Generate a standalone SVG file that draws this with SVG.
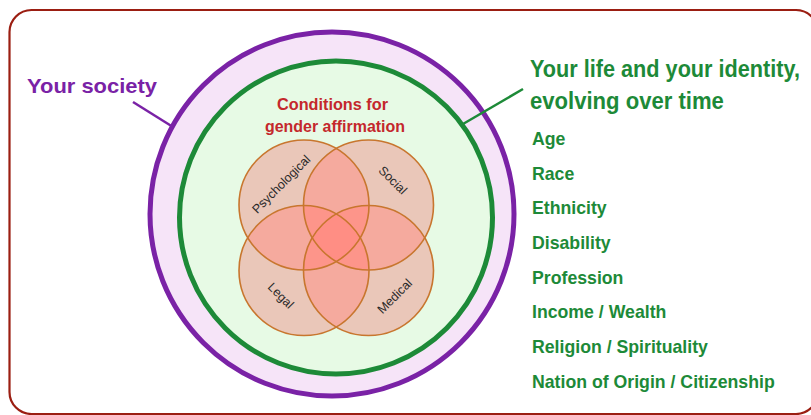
<svg xmlns="http://www.w3.org/2000/svg" width="811" height="415" viewBox="0 0 811 415">
<style>
.bold{font-family:"Liberation Sans",Arial,sans-serif;font-weight:bold}
.purple{fill:#7a22a6}
.green{fill:#1d8a38}
.red{fill:#c4282c}
.item{font-size:17.7px}
.base{fill:#eac7b9}
.lens{fill:#ff8d84;fill-opacity:0.5}
.ring{fill:none;stroke:#c8762e;stroke-width:1.6}
.vlabel{font-family:"Liberation Sans",Arial,sans-serif;font-size:12.5px;fill:#2a2a2a;text-anchor:middle}
.conn{stroke-width:2.5;fill:none}
</style>
<defs>
<clipPath id="cTL"><circle cx="304" cy="205" r="65"/></clipPath>
<clipPath id="cTR"><circle cx="368.5" cy="205" r="65"/></clipPath>
<clipPath id="cBL"><circle cx="304" cy="270.5" r="65"/></clipPath>
</defs>
<rect width="811" height="415" fill="#ffffff"/>
<rect id="frame" x="9.5" y="10" width="808.5" height="404" rx="22" ry="22" fill="none" stroke="#9b1e12" stroke-width="2.2"/>
<g id="society">
<circle cx="332" cy="214" r="182" fill="#f6e4f8" stroke="#7a22a6" stroke-width="5"/>
</g>
<g id="life">
<circle cx="336" cy="217.5" r="156.5" fill="#e7fae5" stroke="#1d8a38" stroke-width="5"/>
</g>
<g id="venn-fill">
<circle class="base" cx="304" cy="205" r="65"/>
<circle class="base" cx="368.5" cy="205" r="65"/>
<circle class="base" cx="304" cy="270.5" r="65"/>
<circle class="base" cx="368.5" cy="270.5" r="65"/>
<circle class="lens" cx="368.5" cy="205" r="65" clip-path="url(#cTL)"/>
<circle class="lens" cx="304" cy="270.5" r="65" clip-path="url(#cTL)"/>
<circle class="lens" cx="368.5" cy="270.5" r="65" clip-path="url(#cTL)"/>
<circle class="lens" cx="304" cy="270.5" r="65" clip-path="url(#cTR)"/>
<circle class="lens" cx="368.5" cy="270.5" r="65" clip-path="url(#cTR)"/>
<circle class="lens" cx="368.5" cy="270.5" r="65" clip-path="url(#cBL)"/>
</g>
<g id="psychological"><circle class="ring" cx="304" cy="205" r="65"/>
<text class="vlabel" transform="translate(281,184) rotate(-45)" dy="4.5">Psychological</text></g>
<g id="social"><circle class="ring" cx="368.5" cy="205" r="65"/>
<text class="vlabel" transform="translate(393,180) rotate(45)" dy="4.5">Social</text></g>
<g id="legal"><circle class="ring" cx="304" cy="270.5" r="65"/>
<text class="vlabel" transform="translate(281,295.5) rotate(45)" dy="4.5">Legal</text></g>
<g id="medical"><circle class="ring" cx="368.5" cy="270.5" r="65"/>
<text class="vlabel" transform="translate(394.5,296) rotate(-45)" dy="4.5">Medical</text></g>
<g id="connectors">
<line class="conn" x1="133" y1="102" x2="173" y2="127" stroke="#7a22a6"/>
<line class="conn" x1="523" y1="89" x2="463" y2="124" stroke="#1d8a38"/>
</g>
<g id="labels">
<text class="bold purple" x="27" y="93" font-size="21" textLength="130" lengthAdjust="spacingAndGlyphs">Your society</text>
<text class="bold red" x="332.5" y="110" font-size="16.5" text-anchor="middle" textLength="111" lengthAdjust="spacingAndGlyphs">Conditions for</text>
<text class="bold red" x="335" y="132" font-size="16.5" text-anchor="middle" textLength="140" lengthAdjust="spacingAndGlyphs">gender affirmation</text>
<text class="bold green" font-size="23.5" transform="translate(530,77) scale(0.922,1)">Your life and your identity,</text>
<text class="bold green" font-size="23.5" transform="translate(530,109) scale(0.94,1)">evolving over time</text>
<g class="bold green item">
<text x="532" y="145">Age</text>
<text x="532" y="179.7">Race</text>
<text x="532" y="214.4">Ethnicity</text>
<text x="532" y="249">Disability</text>
<text x="532" y="283.7">Profession</text>
<text x="532" y="318.4">Income / Wealth</text>
<text x="532" y="353">Religion / Spirituality</text>
<text x="532" y="387.7">Nation of Origin / Citizenship</text>
</g>
</g>
</svg>
